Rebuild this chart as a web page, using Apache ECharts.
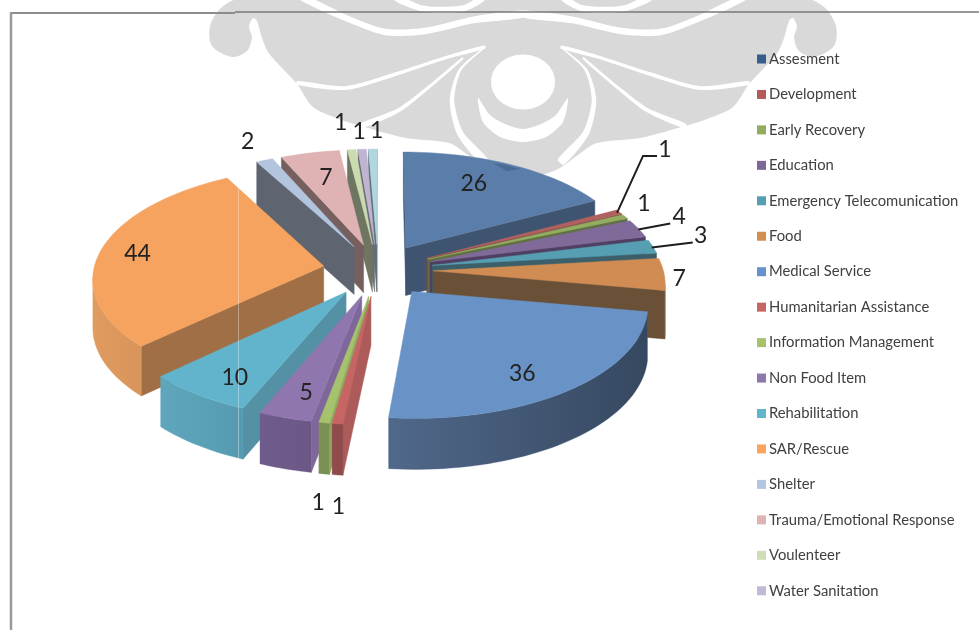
<!DOCTYPE html>
<html><head><meta charset="utf-8">
<style>html,body{margin:0;padding:0;background:#fff}#c{width:979px;height:630px}</style>
<script src="https://cdn.jsdelivr.net/npm/echarts@6/dist/echarts.min.js"></script>
</head><body><div id="c"></div>
<script>
const categories = ['Assesment','Development','Early Recovery','Education','Emergency Telecomunication','Food','Medical Service','Humanitarian Assistance','Information Management','Non Food Item','Rehabilitation','SAR/Rescue','Shelter','Trauma/Emotional Response','Voulenteer','Water Sanitation','Lainnya'];
const values = [26,1,1,4,3,7,36,1,1,5,10,44,2,7,1,1,1];
const legendNames = categories.slice(0,16);

const legendColors = ['#355E8D','#B05C5B','#92AB5F','#7E6699','#559FB2','#D38F50','#6691CA','#C66564','#A6C26D','#8F76AE','#62B4CC','#F9A560','#B5C4DF','#DFB3B3','#CFDDB8','#C3B9D4','#B0D6E0'];
const topColors    = ['#5B7DA9','#B0605E','#93AC62','#806A9A','#569FB3','#D08C52','#6993C7','#C66564','#A6C26D','#8F76AE','#62B4CC','#F5A35E','#B3C4DF','#DFB3B3','#CBDBB0','#BFB5D1','#B0D6E0'];
const radialColors = ['#3F5470','#7A4443','#5F7042','#4F3F62','#3D5F6A','#6B5038','#3F516D','#AD5B5A','#8FA95F','#7F679C','#5591A5','#A06F45','#5E6470','#76605F','#6E7560','#6B6A78','#5F7078'];
const arcLeft      = ['#3F5470','#7A4443','#5F7042','#4F3F62','#3D5F6A','#6B5038','#50688A','#8E4B4A','#7C9055','#705C8C','#5FA6BC','#E09B60','#5E6470','#76605F','#6E7560','#6B6A78','#5F7078'];
const arcRight     = ['#3F5470','#7A4443','#5F7042','#4F3F62','#3D5F6A','#6B5038','#364860','#8E4B4A','#7C9055','#6B5886','#559AB0','#D8945A','#5E6470','#76605F','#6E7560','#6B6A78','#5F7078'];
// label offset in px from the middle of each slice's outer edge
const labelOffsets = [[-37,19],[46,-62],[19,-13],[41,-12],[48,-11],[15,4],[-46,-17],[1,83],[-6,80],[21,-25],[37,-17],[36,4],[-17,-19],[16,25],[-11,-27],[-3,-18],[4,-19]];
// leader lines, px from the same point
const leaders = {1:[[-2,1],[24,-56],[38,-56]],3:[[0,1],[32,-5]],4:[[-1,1],[40,-4]]};

const cx=378, cy=270, Rx=230, Ry=109.6, persp=0.1, explode=0.24, depth=48;
const total = values.reduce((a,b)=>a+b,0);
const starts=[]; values.reduce((acc,v,i)=>{starts[i]=acc;return acc+v;},0);
const toAng = c => c/total*2*Math.PI;
function project(u,v){const s=1/(1-persp*v);return {x:cx+Rx*u*s,y:cy+Ry*v*s,s};}
function low(p){return {x:p.x,y:p.y+depth*Math.sqrt(p.s)};}
function arr(p){return [p.x,p.y];}
function slicePts(i,val){
  const a0=toAng(starts[i]),a1=toAng(starts[i]+val),m=(a0+a1)/2;
  const ox=explode*Math.sin(m),oy=-explode*Math.cos(m);
  const apex=project(ox,oy);
  const n=Math.max(2,Math.ceil((a1-a0)/0.03));
  const arc=[];
  for(let k=0;k<=n;k++){const a=a0+(a1-a0)*k/n;arc.push(project(ox+Math.sin(a),oy-Math.cos(a)));}
  const mid=project((1+explode)*Math.sin(m),-(1+explode)*Math.cos(m));
  return {apex,arc,mid};
}
function wall(a,b,fill){return {type:'polygon',silent:true,shape:{points:[arr(a),arr(b),arr(low(b)),arr(low(a))]},style:{fill,stroke:fill,lineWidth:0.5}};}
function renderSlice(i){
  return function(params,api){
    const {apex,arc}=slicePts(i,api.value(0));
    const ch=[];
    const first=arc[0],last=arc[arc.length-1];
    if(first.x<apex.x) ch.push(wall(apex,first,radialColors[i]));
    if(apex.x<last.x) ch.push(wall(last,apex,radialColors[i]));
    const run=[];
    for(let k=0;k<arc.length-1;k++){ if(arc[k+1].x<arc[k].x){ if(!run.length) run.push(arc[k]); run.push(arc[k+1]); } }
    if(run.length>1){
      const pts=run.map(arr).concat(run.slice().reverse().map(p=>arr(low(p))));
      ch.push({type:'polygon',silent:true,shape:{points:pts},style:{
        fill:new echarts.graphic.LinearGradient(0,0,1,0,[{offset:0,color:arcLeft[i]},{offset:1,color:arcRight[i]}]),
        stroke:arcLeft[i],lineWidth:0.3}});
    }
    ch.push({type:'polygon',silent:true,shape:{points:[arr(apex)].concat(arc.map(arr))},style:{fill:topColors[i],stroke:topColors[i],lineWidth:0.5}});
    return {type:'group',children:ch};
  };
}
function renderLabel(params,api){
  const i=params.dataIndex,val=api.value(0);
  const {mid}=slicePts(i,val);
  const ch=[];
  if(leaders[i]) ch.push({type:'polyline',silent:true,shape:{points:leaders[i].map(o=>[mid.x+o[0],mid.y+o[1]])},style:{stroke:'#1e1e1e',lineWidth:2,fill:null}});
  ch.push({type:'text',silent:true,style:{text:String(val),x:mid.x+labelOffsets[i][0],y:mid.y+labelOffsets[i][1],font:'23px Lato',fill:'#222',textAlign:'center',textVerticalAlign:'middle'}});
  return {type:'group',children:ch};
}
const paintOrder=values.map((v,i)=>i).sort((a,b)=>{
  const f=i=>Math.cos(toAng(starts[i]+values[i]/2));
  return f(b)-f(a);
});
const series=paintOrder.map(i=>({type:'custom',name:categories[i],coordinateSystem:'none',animation:false,silent:true,
  data:[[values[i]]],itemStyle:{color:legendColors[i]},renderItem:renderSlice(i)}));
series.push({type:'custom',name:'labels',coordinateSystem:'none',animation:false,silent:true,
  data:values.map(v=>[v]),renderItem:renderLabel});

// background watermark, symmetric about x=523
const mx=pts=>pts.map(p=>[1046-p[0],p[1]]);
const wmHalf=[[245,-3],[222,7],[210,26],[212,46],[232,57],[247,51],[252,37],[249,27],[253,18],[257,21],[262,38],[268,52],[282,68],[297,84],[313,107],[339,119],[361,126],[406,138],[449,143],[468,155],[490,170],[523,178]];
const wmBody=wmHalf.concat(mx(wmHalf).reverse().slice(1));
function taper(pts,w0,w1){
  const L=[],R=[];
  pts.forEach((p,i)=>{
    const a=pts[Math.max(0,i-1)],b=pts[Math.min(pts.length-1,i+1)];
    const dx=b[0]-a[0],dy=b[1]-a[1],d=Math.hypot(dx,dy)||1;
    const w=(w0+(w1-w0)*i/(pts.length-1))/2;
    L.push([p[0]-dy/d*w,p[1]+dx/d*w]);R.push([p[0]+dy/d*w,p[1]-dx/d*w]);
  });
  return L.concat(R.reverse());
}
const wmCuts=[
  {p:[[485,47],[448,57],[396,74],[346,88],[297,83]],w0:3,w1:4},
  {p:[[463,58],[429,87],[399,110],[361,126]],w0:2,w1:5},
  {p:[[485,47],[460,70],[452,100],[460,133],[485,162]],w0:1,w1:8},
  {p:[[301,-3],[346,18],[385,32],[425,31],[473,20],[523,14]],w0:6,w1:7},
  {p:[[396,-2],[420,8],[440,10],[465,8],[483,-2]],w0:6,w1:6}
];
const cutEls=[];
wmCuts.forEach(c=>{[c.p,mx(c.p)].forEach(p=>cutEls.push({type:'polygon',silent:true,z:-9,shape:{points:taper(p,c.w0,c.w1),smooth:0.25},style:{fill:'#fff'}}));});
const crescent=[[478,98],[483,122],[500,137],[523,142],[546,137],[563,122],[568,98],[556,115],[541,124],[523,129],[505,124],[490,115]];
const graphicEls=[
 {type:'polygon',silent:true,z:-10,shape:{points:wmBody,smooth:0.3},style:{fill:'#D9D9D9'}},
 ...cutEls,
 {type:'ellipse',silent:true,z:-9,shape:{cx:523,cy:82,rx:32,ry:27.5},style:{fill:'#fff'}},
 {type:'polygon',silent:true,z:-9,shape:{points:crescent,smooth:0.25},style:{fill:'#fff'}},
 {type:'line',silent:true,z:-5,shape:{x1:10,y1:13,x2:235,y2:13},style:{stroke:'#8c8c8c',lineWidth:2}},
 {type:'line',silent:true,z:-5,shape:{x1:235,y1:12,x2:979,y2:12},style:{stroke:'#777',lineWidth:1.5}},
 {type:'line',silent:true,z:-5,shape:{x1:11,y1:12,x2:11,y2:630},style:{stroke:'#9a9a9a',lineWidth:2.5}},
 {type:'line',silent:true,z:100,shape:{x1:238.5,y1:187,x2:238.5,y2:460},style:{stroke:'rgba(255,255,255,0.35)',lineWidth:1}},
 {type:'polygon',silent:true,z:100,shape:{points:[[493,163],[505,165],[520,169],[507,171]]},style:{fill:'rgba(40,70,115,0.35)'}}
];
const chart=echarts.init(document.getElementById('c'),null,{renderer:'canvas'});
chart.setOption({
  animation:false,backgroundColor:'#fff',
  legend:{orient:'vertical',left:757,top:51,padding:0,data:legendNames,icon:'rect',itemWidth:9,itemHeight:9,itemGap:19.45,selectedMode:false,
    textStyle:{fontFamily:'Lato',fontSize:14.8,color:'#404040',lineHeight:16,padding:[0,0,0,-2]}},
  graphic:{elements:graphicEls},
  series
});
</script></body></html>
